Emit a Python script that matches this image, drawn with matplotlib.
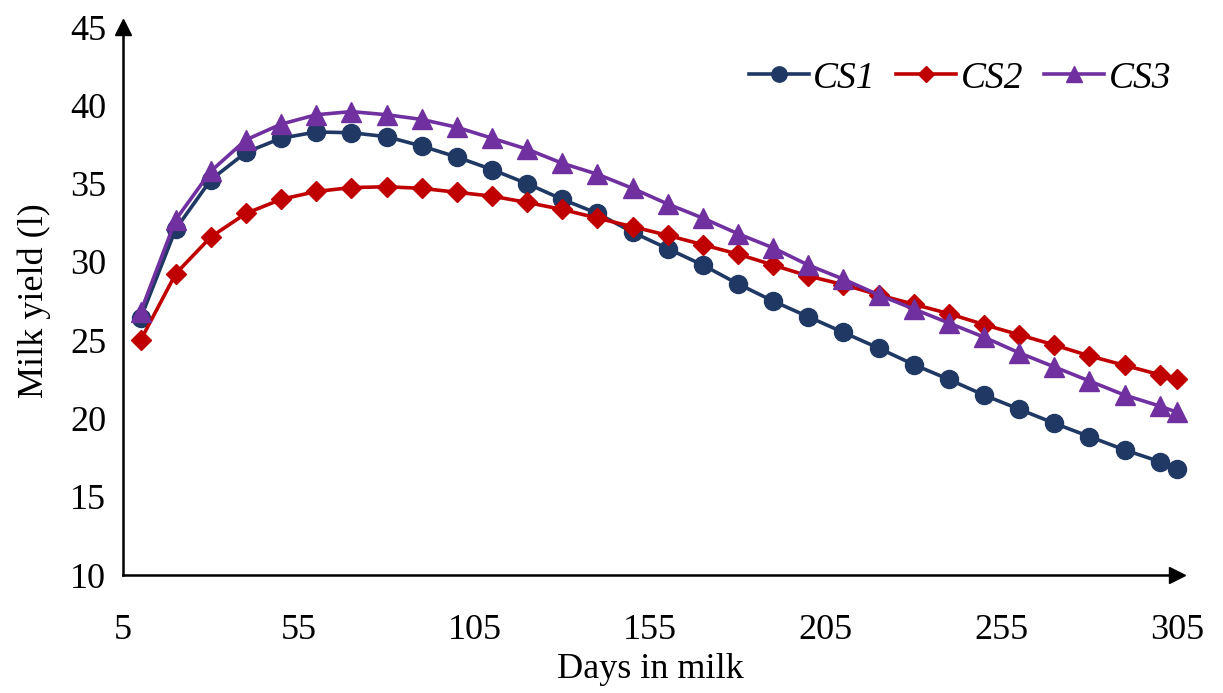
import matplotlib
matplotlib.use("Agg")
import matplotlib.pyplot as plt
from matplotlib.lines import Line2D

plt.rcParams['font.family'] = ['Liberation Serif', 'DejaVu Serif']

days = [10, 20, 30, 40, 50, 60, 70, 80, 90, 100, 110, 120, 130, 140, 150,
        160, 170, 180, 190, 200, 210, 220, 230, 240, 250, 260, 270, 280, 290, 300, 305]

cs1 = [26.4, 32.1, 35.25, 37.0, 37.9, 38.3, 38.25, 38.0, 37.4, 36.7, 35.9, 35.0,
       34.0, 33.1, 31.9, 30.85, 29.8, 28.6, 27.5, 26.5, 25.5, 24.5, 23.45, 22.5,
       21.5, 20.6, 19.7, 18.85, 18.0, 17.25, 16.8]
cs2 = [25.0, 29.25, 31.6, 33.1, 34.0, 34.5, 34.75, 34.8, 34.7, 34.45, 34.2, 33.8,
       33.35, 32.8, 32.25, 31.7, 31.1, 30.5, 29.8, 29.1, 28.55, 27.9, 27.3, 26.7,
       26.0, 25.35, 24.7, 24.0, 23.4, 22.8, 22.5]
cs3 = [26.8, 32.7, 35.8, 37.8, 38.8, 39.4, 39.6, 39.4, 39.1, 38.6, 37.9, 37.2,
       36.3, 35.6, 34.7, 33.7, 32.8, 31.8, 30.9, 29.8, 28.9, 27.9, 27.0, 26.1,
       25.2, 24.2, 23.3, 22.4, 21.5, 20.8, 20.4]

series_names = ['CS1', 'CS2', 'CS3']
x_ticks = [5, 55, 105, 155, 205, 255, 305]
y_ticks = [10, 15, 20, 25, 30, 35, 40, 45]

colors = ['#1F3864', '#C00000', '#7030A0']
markers = ['o', 'D', '^']
msizes = [13, 10, 14]

fig = plt.figure(figsize=(12.23, 6.93), dpi=100)
ax = fig.add_axes([0.1006, 0.170, 0.862, 0.791])

handles = []
for vals, name, c, m, ms in zip([cs1, cs2, cs3], series_names, colors, markers, msizes):
    ax.plot(days, vals, color=c, marker=m, markersize=ms, linewidth=2.6,
            markeredgecolor=c, clip_on=False, zorder=3)
    handles.append(Line2D([], [], color=c, marker=m, markersize=ms * 0.85,
                          linewidth=2.6, markeredgecolor=c))

ax.set_xlim(5, 305)
ax.set_ylim(10, 45)
ax.set_xticks(x_ticks)
ax.set_yticks(y_ticks)
ax.tick_params(axis='both', length=0, labelsize=26, colors='black')
ax.tick_params(axis='x', pad=28)
ax.tick_params(axis='y', pad=12)

for s in ['top', 'right']:
    ax.spines[s].set_visible(False)
for s in ['left', 'bottom']:
    ax.spines[s].set_linewidth(1.8)
    ax.spines[s].set_color('black')

# arrow heads at the axis ends
ax.plot(1, 0, marker='>', color='black', markersize=11, transform=ax.transAxes,
        clip_on=False, zorder=4)
ax.plot(0, 1, marker='^', color='black', markersize=11, transform=ax.transAxes,
        clip_on=False, zorder=4)

ax.set_xlabel('Days in milk', fontsize=26, labelpad=4)
ax.set_ylabel('Milk yield (l)', fontsize=26, labelpad=14)

leg = ax.legend(handles, series_names, loc='upper right', ncol=3, frameon=False,
                prop={'style': 'italic', 'size': 27, 'family': 'Liberation Serif'},
                handlelength=1.6, handletextpad=0.12, columnspacing=0.55,
                borderpad=0, borderaxespad=0,
                bbox_to_anchor=(0.994, 0.938))

fig.savefig('out.png', dpi=100, facecolor='white')
